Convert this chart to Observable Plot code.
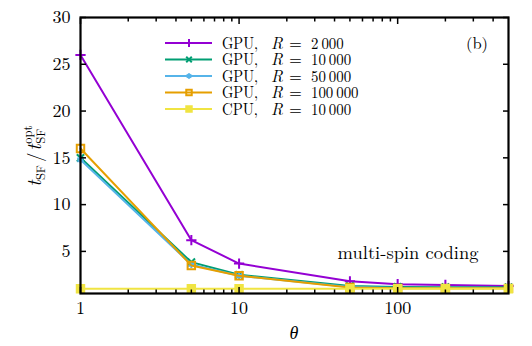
<!DOCTYPE html>
<html>
<head>
<meta charset="utf-8">
<script src="https://cdn.jsdelivr.net/npm/d3@7"></script>
<script src="https://cdn.jsdelivr.net/npm/@observablehq/plot@0.6"></script>
<style>
  body { margin: 0; background: #fff; }
  #chart svg { display: block; }
  #chart svg, #chart svg text {
    font-family: "Latin Modern Roman", "Liberation Serif", serif !important;
  }
</style>
</head>
<body>
<div id="chart"></div>
<script>
// Swendsen–Ferrenberg time relative to the optimum, versus theta
const theta = [1, 5, 10, 50, 100, 200, 500];

const gpuR2000   = [26.0, 6.2, 3.7, 1.8, 1.5, 1.42, 1.3];
const gpuR10000  = [15.0, 3.85, 2.5, 1.3, 1.2, 1.18, 1.17];
const gpuR50000  = [14.8, 3.6, 2.4, 1.2, 1.1, 1.1, 1.1];
const gpuR100000 = [16.0, 3.5, 2.4, 1.15, 1.05, 1.05, 1.05];
const cpuR10000  = [1.0, 1.0, 1.0, 1.0, 1.0, 1.0, 1.0];

const platforms = ["GPU,", "GPU,", "GPU,", "GPU,", "CPU,"];
const replicas  = ["2\u2009000", "10\u2009000", "50\u2009000", "100\u2009000", "10\u2009000"];
const colors    = ["#9400d3", "#009e73", "#56b4e9", "#e69f00", "#f0e442"];
const symbols   = ["plus", "times", "asterisk", "square", "square"];
const filled    = [false, false, false, false, true];

const xMajorTicks = [1, 10, 100];
const xMinorTicks = [2, 3, 4, 5, 6, 7, 8, 9, 20, 30, 40, 50, 60, 70, 80, 90, 200, 300, 400];
const yTicks = [5, 10, 15, 20, 25, 30];

const seriesValues = [gpuR2000, gpuR10000, gpuR50000, gpuR100000, cpuR10000];
const series = seriesValues.map((values, i) => ({
  key: i,
  rows: theta.map((t, j) => ({theta: t, value: values[j]}))
}));

const font = "Latin Modern Roman, Liberation Serif, serif";
const W = 532, H = 346;
const M = {top: 17, right: 24, bottom: 53, left: 80};

const marks = [];
for (const s of series) {
  const c = colors[s.key];
  marks.push(Plot.line(s.rows, {x: "theta", y: "value", stroke: c, strokeWidth: 2}));
  marks.push(Plot.dot(s.rows, {
    x: "theta", y: "value",
    symbol: () => symbols[s.key],
    r: symbols[s.key] === "square" ? 4.2 : 3.4,
    stroke: c, strokeWidth: 2,
    fill: filled[s.key] ? c : "none"
  }));
}

const chart = Plot.plot({
  width: W, height: H,
  marginTop: M.top, marginRight: M.right, marginBottom: M.bottom, marginLeft: M.left,
  style: {fontSize: "18px", color: "#000", background: "#fff"},
  x: {type: "log", domain: [1, 500]},
  y: {domain: [0.5, 30]},
  marks: [
    ...marks,
    // tick labels
    Plot.axisX(xMajorTicks, {anchor: "bottom", tickSize: 0, tickPadding: 8, tickFormat: d => String(d), label: null, fontSize: 18}),
    Plot.axisY(yTicks, {anchor: "left", tickSize: 0, tickPadding: 10, tickFormat: d => String(d), label: null, fontSize: 18}),
    // inward ticks on all four sides
    Plot.axisX(xMajorTicks, {anchor: "bottom", tickSize: -6, text: null, label: null, strokeWidth: 1.5}),
    Plot.axisX(xMinorTicks, {anchor: "bottom", tickSize: -3.5, text: null, label: null, strokeWidth: 1.5}),
    Plot.axisX(xMajorTicks, {anchor: "top", tickSize: -6, text: null, label: null, strokeWidth: 1.5}),
    Plot.axisX(xMinorTicks, {anchor: "top", tickSize: -3.5, text: null, label: null, strokeWidth: 1.5}),
    Plot.axisY(yTicks, {anchor: "left", tickSize: -6, text: null, label: null, strokeWidth: 1.5}),
    Plot.axisY(yTicks, {anchor: "right", tickSize: -6, text: null, label: null, strokeWidth: 1.5}),
    Plot.frame({stroke: "#000", strokeWidth: 2.2}),
    Plot.text(["multi-spin coding"], {frameAnchor: "bottom-right", dx: -30, dy: -35, textAnchor: "end", fontSize: 18.5})
  ]
});

document.getElementById("chart").appendChild(chart);
const svg = d3.select(chart);

// legend in the upper part of the frame
const legend = svg.append("g")
  .attr("font-family", font).attr("font-size", 16.5).attr("text-anchor", "start");
const rowY = [43, 59.5, 76, 92.5, 109];
const symbolTypes = {plus: d3.symbolPlus, times: d3.symbolTimes, asterisk: d3.symbolAsterisk, square: d3.symbolSquare};
// slightly condensed set width for the label pieces
const fit = (sel, w) => sel.attr("textLength", w).attr("lengthAdjust", "spacingAndGlyphs");
series.forEach((s, i) => {
  const g = legend.append("g").attr("transform", `translate(0,${rowY[i]})`);
  const c = colors[i];
  g.append("line").attr("x1", 165).attr("x2", 212).attr("y1", 0).attr("y2", 0)
    .attr("stroke", c).attr("stroke-width", 2);
  const sym = d3.symbol(symbolTypes[symbols[i]], symbols[i] === "square" ? 30 : 22);
  g.append("path").attr("d", sym()).attr("transform", "translate(189,0)")
    .attr("stroke", c).attr("stroke-width", 2).attr("fill", filled[i] ? c : "none");
  fit(g.append("text").attr("x", 222).attr("y", 5.5).text(platforms[i]), 36);
  g.append("text").attr("x", 271).attr("y", 5.5).attr("font-style", "italic").text("R");
  g.append("text").attr("x", 289).attr("y", 5.5).text("=");
  const num = g.append("text").attr("x", 311).attr("y", 5.5).text(replicas[i]);
  fit(num, num.node().getComputedTextLength() * 0.9);
});
legend.append("text").attr("x", 477).attr("y", 48.5).attr("text-anchor", "middle").text("(b)");

// x-axis title
svg.append("text")
  .attr("x", 294).attr("y", 339)
  .attr("text-anchor", "middle")
  .attr("font-family", font).attr("font-size", 18).attr("font-style", "italic")
  .text("θ");

// y-axis title: t_SF / t_SF^opt, laid out piece by piece along the rotated axis
const ylOuter = svg.append("g")
  .attr("transform", "translate(41,156) rotate(-90)")
  .attr("font-family", font).attr("text-anchor", "start");
const yl = ylOuter.append("g");
let cx = 0;
function piece(txt, size, dy, italic, advance = true, at = cx) {
  const t = yl.append("text").attr("x", at).attr("y", dy).attr("font-size", size)
    .attr("font-style", italic ? "italic" : null).text(txt);
  const w = t.node().getComputedTextLength();
  if (advance) cx = at + w;
  return w;
}
piece("t", 19, 0, true);
piece("SF", 12.5, 4, false);
cx += 3;
piece("/", 19, 0, false);
cx += 2;
piece("t", 19, 0, true);
const start = cx + 0.5;
const wSub = piece("SF", 12.5, 4, false, false, start);
const wSup = piece("opt", 12.5, -9, false, false, start);
cx = start + Math.max(wSub, wSup);
yl.attr("transform", `translate(${-cx / 2},0)`);
</script>
</body>
</html>
